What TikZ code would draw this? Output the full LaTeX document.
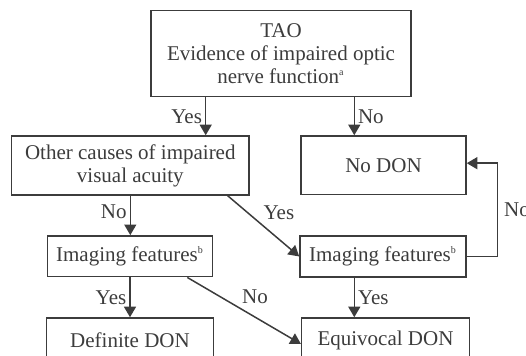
\documentclass[tikz,border=0pt]{standalone}
\usepackage{fontspec}
\setmainfont{Liberation Serif}
\usepackage{xcolor}
\usepackage{tikz}
\usetikzlibrary{arrows.meta, positioning}
\definecolor{flowgray}{HTML}{3C3C3C}
\tikzset{
  flowbox/.style={draw=flowgray,line width=0.75pt,inner sep=1pt,align=center,text=flowgray,font=\fontsize{10.5}{11.5}\selectfont},
  flowarr/.style={-{Triangle[length=5.3pt,width=6pt]},line width=0.75pt,flowgray},
  flowlbl/.style={text=flowgray,inner sep=1.5pt,font=\fontsize{10.5}{11.5}\selectfont},
}
\newcommand{\supmark}[1]{\textsuperscript{\tiny #1}}

\begin{document}
\begin{tikzpicture}[x=0.5pt,y=0.5pt]
  \useasboundingbox (0,0) rectangle (526,356);
  \node[flowbox,minimum width=130pt,minimum height=43pt] (nTAO) at (281,302.3) {TAO\\Evidence of impaired optic\\nerve function\supmark{a}};
  \node[flowbox,minimum width=118.6pt,minimum height=29.5pt] (nOther) at (130.3,190.5) {Other causes of impaired\\visual acuity};
  \node[flowbox,minimum width=82.5pt,minimum height=29.2pt] (nNoDON) at (383.5,190.8) {No DON};
  \node[flowbox,minimum width=82.7pt,minimum height=20.4pt] (nImgL) at (130,99.7) {Imaging features\supmark{b}};
  \node[flowbox,minimum width=83pt,minimum height=20.5pt] (nImgR) at (383,99.5) {Imaging features\supmark{b}};
  \node[flowbox,minimum width=83.6pt,minimum height=22pt] (nDef) at (130,16) {Definite DON};
  \node[flowbox,minimum width=83.8pt,minimum height=22pt] (nEquiv) at (385.5,16) {Equivocal DON};
  \draw[flowarr] ([xshift=-37.65pt]nTAO.south) -- node[flowlbl,left] {Yes} ([xshift=-37.65pt]nTAO.south |- nOther.north);
  \draw[flowarr] ([xshift=36.65pt]nTAO.south) -- node[flowlbl,right] {No} ([xshift=36.65pt]nTAO.south |- nNoDON.north);
  \draw[flowarr] (nOther.south) -- node[flowlbl,left,pos=.4] {No} (nOther.south |- nImgL.north);
  \draw[flowarr] ([xshift=48.7pt]nOther.south) -- node[flowlbl,above right,pos=.45] {Yes} (nImgR.west);
  \draw[flowarr] (nImgL.south) -- node[flowlbl,left] {Yes} (nImgL.south |- nDef.north);
  \draw[flowarr] ([xshift=28.65pt]nImgL.south) -- node[flowlbl,above right,pos=.45] {No} ([yshift=-2pt]nEquiv.west);
  \draw[flowarr] ([xshift=-14.35pt]nImgR.south) -- node[flowlbl,right] {Yes} ([xshift=-14.35pt]nImgR.south |- nEquiv.north);
  \draw[flowarr] (nImgR.east) -- ++(15.35pt,0) |- node[flowlbl,right,pos=.25,xshift=1.5pt] {No} ([yshift=1pt]nNoDON.east);
\end{tikzpicture}
\end{document}
